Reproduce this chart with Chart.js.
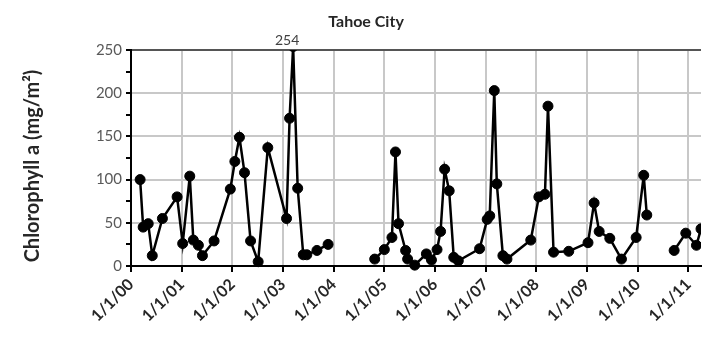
<!DOCTYPE html>
<html>
<head>
<meta charset="utf-8">
<script src="https://cdn.jsdelivr.net/npm/chart.js@4.4.1/dist/chart.umd.min.js"></script>
<style>
  html, body { margin: 0; padding: 0; background: #fff; }
  #wrap { width: 707px; height: 346px; }
</style>
</head>
<body>
<div id="wrap"><canvas id="chlChart" width="707" height="346"></canvas></div>
<script>
(function() {
    'use strict';

    // ===== DATA =====
    // sample dates as decimal years, null value = break in the line
    const sampleYears = [
        2000.18, 2000.24, 2000.34, 2000.42, 2000.62, 2000.91, 2001.02, 2001.16, 2001.23, 2001.33,
        2001.41, 2001.64, 2001.96, 2002.05, 2002.14, 2002.24, 2002.36, 2002.51, 2002.70, 2003.07,
        2003.13, 2003.20, 2003.29, 2003.40, 2003.47, 2003.67, 2003.89, 2004.30,
        2004.81, 2005.00, 2005.15, 2005.22, 2005.28, 2005.42, 2005.46, 2005.60, 2005.83, 2005.93,
        2006.04, 2006.11, 2006.19, 2006.28, 2006.37, 2006.46, 2006.88, 2007.03, 2007.08, 2007.17,
        2007.22, 2007.34, 2007.42, 2007.89, 2008.05, 2008.17, 2008.23, 2008.34, 2008.64, 2009.02,
        2009.14, 2009.24, 2009.45, 2009.68, 2009.97, 2010.12, 2010.18, 2010.45,
        2010.72, 2010.95, 2011.16, 2011.25
    ];
    const chlValues = [
        100, 45, 49, 12, 55, 80, 26, 104, 30, 24,
        12, 29, 89, 121, 149, 108, 29, 5, 137, 55,
        171, 254, 90, 13, 13, 18, 25, null,
        8, 19, 33, 132, 49, 18, 8, 1, 14, 7,
        19, 40, 112, 87, 10, 6, 20, 54, 58, 203,
        95, 12, 8, 30, 80, 83, 185, 16, 17, 27,
        73, 40, 32, 8, 33, 105, 59, null,
        18, 38, 24, 43
    ];
    const tickYears = [2000, 2001, 2002, 2003, 2004, 2005, 2006, 2007, 2008, 2009, 2010, 2011];
    const yTickValues = [0, 25, 50, 75, 100, 125, 150, 175, 200, 225, 250];

    const chartTitle = 'Tahoe City';
    const yTitle = 'Chlorophyll a (mg/m²)';
    const Y_MAX = 250;

    const FONT = 'Lato, "Open Sans", sans-serif';

    const points = sampleYears.map((yr, i) => ({ x: yr, y: chlValues[i] }));

    // ===== TEXT PLUGIN (title, axis title, off-scale label) =====
    const textPlugin = {
        id: 'chlText',
        afterDraw(chart) {
            const ctx = chart.ctx;
            const area = chart.chartArea;
            ctx.save();
            ctx.fillStyle = '#262626';
            ctx.textAlign = 'center';
            ctx.textBaseline = 'middle';

            ctx.font = 'bold 16px ' + FONT;
            ctx.fillText(chartTitle, 366, 22);

            ctx.save();
            ctx.translate(33, 166);
            ctx.rotate(-Math.PI / 2);
            ctx.font = 'bold 20px ' + FONT;
            ctx.fillText(yTitle, 0, 0);
            ctx.restore();

            // label for values above the axis max
            const xs = chart.scales.x;
            ctx.font = '14px ' + FONT;
            ctx.fillStyle = '#404040';
            chlValues.forEach((v, i) => {
                if (v !== null && v > Y_MAX) {
                    ctx.fillText(String(v), xs.getPixelForValue(sampleYears[i]) - 6, area.top - 10);
                }
            });
            ctx.restore();
        }
    };

    // ===== CHART =====
    const chlCtx = document.getElementById('chlChart').getContext('2d');
    new Chart(chlCtx, {
        type: 'line',
        data: {
            datasets: [{
                data: points,
                borderColor: '#000',
                backgroundColor: '#000',
                borderWidth: 2.5,
                pointRadius: 5,
                pointBackgroundColor: '#000',
                pointBorderColor: '#000',
                pointBorderWidth: 1,
                tension: 0,
                spanGaps: false,
                clip: { left: 8, top: 0, right: 0, bottom: 8 }
            }]
        },
        options: {
            responsive: false,
            animation: false,
            devicePixelRatio: 1,
            layout: { padding: { top: 50, left: 0, right: 0, bottom: 0 } },
            plugins: {
                legend: { display: false },
                title: { display: false },
                tooltip: { enabled: false }
            },
            scales: {
                x: {
                    type: 'linear',
                    min: 2000,
                    max: 2011.25,
                    afterBuildTicks: s => { s.ticks = tickYears.map(v => ({ value: v })); },
                    afterFit: s => { s.height = 80; s.paddingLeft = 0; s.paddingRight = 0; },
                    grid: { color: '#c8c8c8', lineWidth: 2, tickColor: '#000', tickLength: 6 },
                    border: { color: '#000', width: 2 },
                    ticks: {
                        autoSkip: false,
                        minRotation: 45,
                        maxRotation: 45,
                        padding: 3,
                        color: '#262626',
                        font: { family: FONT, size: 16, weight: 'bold' },
                        callback: v => '1/1/' + String(v % 100).padStart(2, '0')
                    }
                },
                y: {
                    min: 0,
                    max: Y_MAX,
                    afterBuildTicks: s => { s.ticks = yTickValues.map(v => ({ value: v })); },
                    afterFit: s => { s.width = 131; },
                    grid: {
                        color: c => {
                            const v = c.tick ? c.tick.value : 0;
                            if (v === Y_MAX) return '#555';
                            return v % 50 === 0 ? '#c8c8c8' : 'rgba(0,0,0,0)';
                        },
                        lineWidth: 2,
                        tickColor: '#000',
                        tickLength: 5
                    },
                    border: { color: '#000', width: 2 },
                    ticks: {
                        autoSkip: false,
                        padding: 4,
                        color: '#595959',
                        font: { family: FONT, size: 15 },
                        callback: v => (v % 50 === 0 ? v : '')
                    }
                }
            }
        },
        plugins: [textPlugin]
    });
})();
</script>
</body>
</html>
